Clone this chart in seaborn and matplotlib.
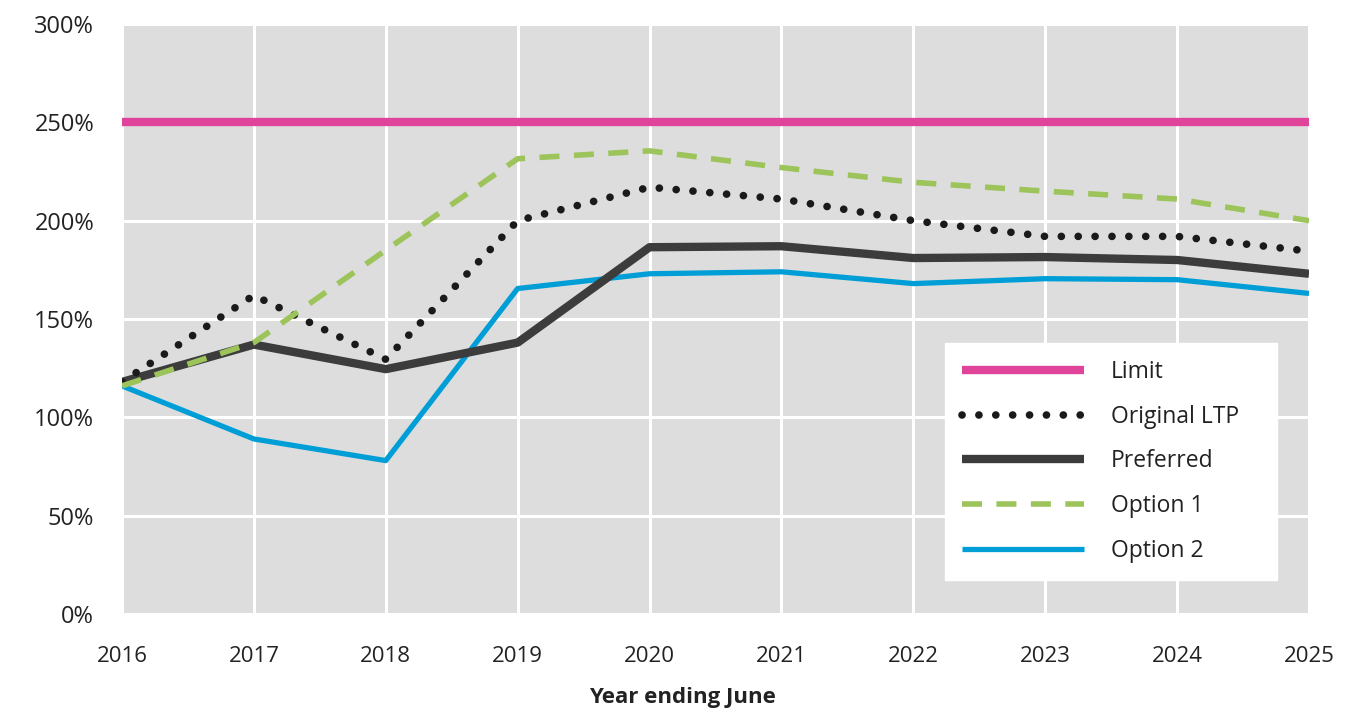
import matplotlib
matplotlib.use("Agg")
import matplotlib.pyplot as plt
import seaborn as sns
import pandas as pd
from matplotlib.ticker import FuncFormatter

years = [2016, 2017, 2018, 2019, 2020, 2021, 2022, 2023, 2024, 2025]
limit = [250, 250, 250, 250, 250, 250, 250, 250, 250, 250]
original_ltp = [118, 162, 129.5, 200, 217, 211, 200, 192, 192, 184.5]
preferred = [118, 137, 124.5, 138, 186.5, 187, 181, 181.5, 180, 173]
option1 = [116, 138, 185, 231.5, 235.5, 227, 219.5, 215, 211, 200]
option2 = [116, 89, 78, 165.5, 173, 174, 168, 170.5, 170, 163]

series = {
    "Limit": limit,
    "Original LTP": original_ltp,
    "Preferred": preferred,
    "Option 1": option1,
    "Option 2": option2,
}
df = pd.DataFrame(
    [(y, name, v) for name, vals in series.items() for y, v in zip(years, vals)],
    columns=["year", "series", "value"],
)

sns.set_theme(style="dark")
plt.rcParams["font.family"] = ["Open Sans", "DejaVu Sans"]

fig = plt.figure(figsize=(13.61, 7.13), dpi=100)
ax = fig.add_axes([122 / 1361, 1 - 614 / 713, (1309 - 122) / 1361, (614 - 24) / 713])
ax.set_facecolor("#dddddd")

styles = {
    "Limit": dict(color="#e0439a", lw=6, ls="-", z=2),
    "Option 2": dict(color="#009ed6", lw=3.8, ls="-", z=3),
    "Preferred": dict(color="#3c3c3c", lw=6, ls="-", z=4),
    "Original LTP": dict(color="#1a1a1a", lw=5.5, ls=(0, (0.01, 2.2)), z=5),
    "Option 1": dict(color="#9cc45a", lw=4, ls=(0, (3.6, 2.6)), z=6),
}

for name in ["Limit", "Option 2", "Preferred", "Original LTP", "Option 1"]:
    st = styles[name]
    sub = df[df["series"] == name]
    sns.lineplot(data=sub, x="year", y="value", ax=ax, color=st["color"],
                 linewidth=st["lw"], linestyle=st["ls"], label=name,
                 zorder=st["z"], dash_capstyle="round" if name == "Original LTP" else "butt",
                 solid_capstyle="butt")

ax.set_xlim(2016, 2025)
ax.set_ylim(0, 300)
ax.set_xticks(years)
ax.set_yticks(range(0, 301, 50))
ax.yaxis.set_major_formatter(FuncFormatter(lambda v, p: f"{int(v)}%"))
ax.grid(True, color="white", linewidth=2.2)
ax.set_axisbelow(True)
for s in ax.spines.values():
    s.set_visible(False)
ax.tick_params(axis="both", length=0, colors="#222222")
ax.tick_params(axis="x", pad=23, labelsize=16)
ax.tick_params(axis="y", pad=20, labelsize=17)
ax.set_xlabel("Year ending June", fontsize=16, fontweight="bold", color="#222222")
ax.xaxis.set_label_coords((682 - 122) / 1187, -(697 - 614) / 590, transform=ax.transAxes)
ax.xaxis.label.set_verticalalignment("center")
ax.set_ylabel("")

handles, labels = ax.get_legend_handles_labels()
order = ["Limit", "Original LTP", "Preferred", "Option 1", "Option 2"]
hmap = dict(zip(labels, handles))
x0, x1, y0, y1 = 945, 1277, 343, 580
leg = ax.legend([hmap[k] for k in order], order, loc="upper left", mode="expand",
                bbox_to_anchor=(x0 / 1361, 1 - y1 / 713, (x1 - x0) / 1361, (y1 - y0) / 713),
                bbox_transform=fig.transFigure,
                fontsize=16.5, handlelength=5.3, handletextpad=1.2, labelspacing=0.9,
                borderpad=0.75, borderaxespad=0, frameon=True, fancybox=False,
                framealpha=1, facecolor="white", edgecolor="white")
for t in leg.get_texts():
    t.set_color("#222222")
leg.set_zorder(10)

fig.savefig("out.png", dpi=100)
